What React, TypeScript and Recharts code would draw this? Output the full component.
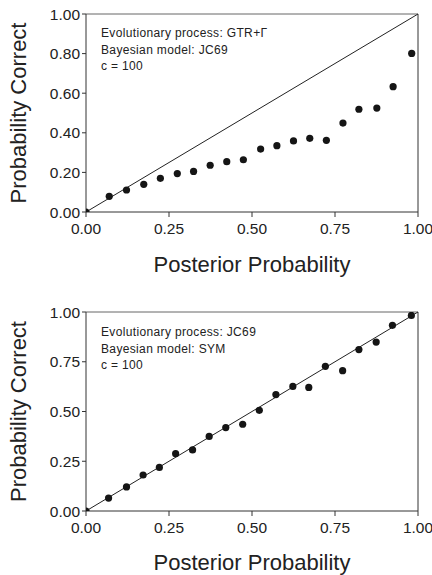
import {
  ReferenceLine,
  Scatter,
  ScatterChart,
  XAxis,
  YAxis,
} from 'recharts';

const FONT = '"Liberation Sans", Arial, sans-serif';

// posterior probability bins and observed frequency correct, per panel
const binsTop = [
  0, 0.07, 0.122, 0.174, 0.224, 0.275, 0.324, 0.374, 0.424, 0.474, 0.526,
  0.575, 0.625, 0.674, 0.724, 0.774, 0.822, 0.876, 0.925, 0.981,
];
const correctTop = [
  0, 0.079, 0.111, 0.14, 0.17, 0.194, 0.205, 0.236, 0.254, 0.264, 0.318,
  0.335, 0.359, 0.372, 0.362, 0.449, 0.519, 0.525, 0.633, 0.801,
];

const binsBottom = [
  0, 0.068, 0.122, 0.172, 0.221, 0.27, 0.321, 0.371, 0.421, 0.472, 0.522,
  0.572, 0.623, 0.671, 0.721, 0.773, 0.822, 0.874, 0.923, 0.98,
];
const correctBottom = [
  0, 0.065, 0.121, 0.181, 0.219, 0.288, 0.307, 0.375, 0.419, 0.436, 0.506,
  0.585, 0.626, 0.621, 0.727, 0.705, 0.811, 0.849, 0.933, 0.983,
];

const xTicks = [0, 0.25, 0.5, 0.75, 1];
const yTicksTop = [0, 0.2, 0.4, 0.6, 0.8, 1];
const yTicksBottom = [0, 0.25, 0.5, 0.75, 1];

const notesTop = ['Evolutionary process: GTR+Γ', 'Bayesian model: JC69', 'c = 100'];
const notesBottom = ['Evolutionary process: JC69', 'Bayesian model: SYM', 'c = 100'];

const Dot = (props: any) => (
  <circle cx={props.cx} cy={props.cy} r={3.6} fill="#151515" />
);

interface PanelProps {
  bins: number[];
  correct: number[];
  yTicks: number[];
  notes: string[];
  top: number;
  height: number;
  marginTop: number;
  axisHeight: number;
  titleOffset: number;
  noteTop: number;
}

function Panel({
  bins,
  correct,
  yTicks,
  notes,
  top,
  height,
  marginTop,
  axisHeight,
  titleOffset,
  noteTop,
}: PanelProps) {
  const data = bins.map((x, i) => ({ x, y: correct[i] }));
  const tick = { fontSize: 15.5, fill: '#222', fontFamily: FONT };

  return (
    <div style={{ position: 'absolute', left: 0, top, width: 432, height }}>
      <ScatterChart
        width={432}
        height={height}
        margin={{ top: marginTop, right: 14, left: 0, bottom: 0 }}
      >
        <XAxis
          type="number"
          dataKey="x"
          domain={[0, 1]}
          ticks={xTicks}
          tickFormatter={(v) => Number(v).toFixed(2)}
          tick={tick}
          tickSize={5}
          tickMargin={6}
          height={axisHeight}
          stroke="#333"
          allowDataOverflow
          label={{
            value: 'Posterior Probability',
            position: 'insideBottom',
            offset: titleOffset,
            style: { fontSize: 22, fill: '#222', fontFamily: FONT },
          }}
        />
        <YAxis
          type="number"
          dataKey="y"
          domain={[0, 1]}
          ticks={yTicks}
          tickFormatter={(v) => Number(v).toFixed(2)}
          tick={tick}
          tickSize={4}
          tickMargin={2}
          width={86}
          stroke="#333"
          allowDataOverflow
          label={{
            value: 'Probability Correct',
            angle: -90,
            position: 'insideLeft',
            offset: 18.5,
            style: { fontSize: 22, fill: '#222', fontFamily: FONT, textAnchor: 'middle' },
          }}
        />
        <ReferenceLine y={1} stroke="#666" strokeWidth={1} />
        <ReferenceLine x={1} stroke="#333" strokeWidth={1} />
        <ReferenceLine
          segment={[
            { x: 0, y: 0 },
            { x: 1, y: 1 },
          ]}
          stroke="#222"
          strokeWidth={1}
        />
        <Scatter data={data} shape={Dot} isAnimationActive={false} />
      </ScatterChart>
      <div
        style={{
          position: 'absolute',
          left: 101,
          top: noteTop,
          fontFamily: FONT,
          fontSize: 12,
          lineHeight: '16.5px',
          color: '#222',
          letterSpacing: 0.35,
        }}
      >
        {notes.map((n) => (
          <div key={n}>{n}</div>
        ))}
      </div>
    </div>
  );
}

export default function App() {
  return (
    <div style={{ position: 'absolute', left: 0, top: 0, width: 432, height: 575, background: '#fff' }}>
      <Panel
        bins={binsTop}
        correct={correctTop}
        yTicks={yTicksTop}
        notes={notesTop}
        top={0}
        height={290}
        marginTop={14}
        axisHeight={78}
        titleOffset={18}
        noteTop={25}
      />
      <Panel
        bins={binsBottom}
        correct={correctBottom}
        yTicks={yTicksBottom}
        notes={notesBottom}
        top={290}
        height={285}
        marginTop={22}
        axisHeight={64}
        titleOffset={5}
        noteTop={34}
      />
    </div>
  );
}
